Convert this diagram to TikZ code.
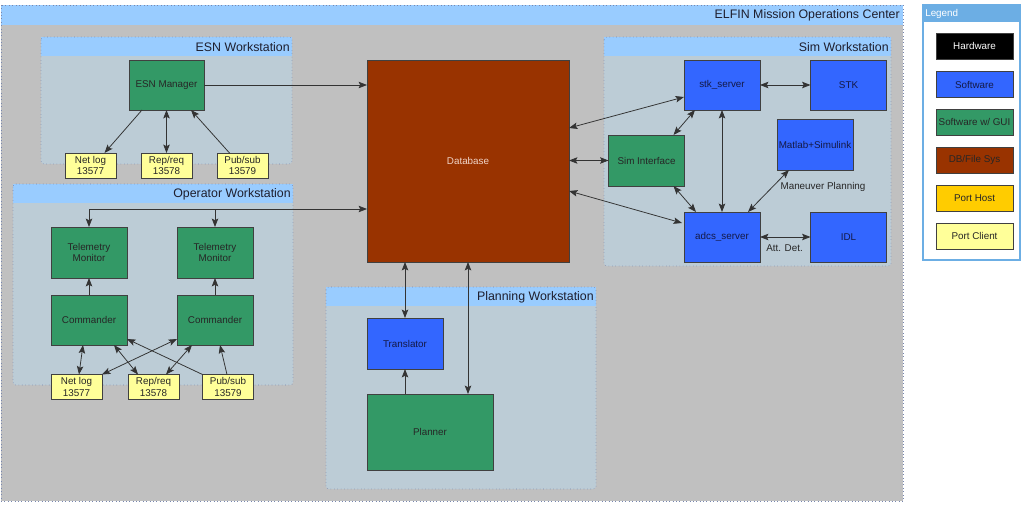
\documentclass[tikz,border=0pt]{standalone}
\usepackage{fontspec}
\setmainfont{Liberation Sans}
\usetikzlibrary{arrows.meta,calc}
\definecolor{mocgray}{RGB}{192,192,192}
\definecolor{hdr}{RGB}{153,204,255}
\definecolor{wsbody}{RGB}{188,204,214}
\definecolor{wsborder}{RGB}{120,135,175}
\definecolor{legblue}{RGB}{108,174,228}
\definecolor{swblue}{RGB}{51,102,255}
\definecolor{guigreen}{RGB}{51,153,102}
\definecolor{dbbrown}{RGB}{153,51,0}
\definecolor{porthost}{RGB}{255,204,0}
\definecolor{portclient}{RGB}{255,255,153}
\definecolor{navytext}{RGB}{20,25,70}
\definecolor{titletext}{RGB}{30,30,45}
\begin{document}
\begin{tikzpicture}[x=0.025cm,y=-0.025cm,
  box/.style={draw=black!75, line width=0.5pt, inner sep=0pt, outer sep=0pt,
    font=\fontsize{7}{8.4}\selectfont, align=center, text=black!85},
  wh/.style 2 args={minimum width=#1*0.025cm, minimum height=#2*0.025cm},
  gui/.style={box, fill=guigreen},
  sw/.style={box, fill=swblue, text=navytext},
  port/.style={box, fill=portclient, wh={51}{25}},
  wstitle/.style={font=\fontsize{8.8}{10}\selectfont, text=titletext, anchor=east, inner sep=0pt},
  conn/.style={draw=black!80, line width=0.55pt},
  bi/.style={conn, {Stealth[length=6pt,width=4.6pt,inset=1.2pt]}-{Stealth[length=6pt,width=4.6pt,inset=1.2pt]}},
  uni/.style={conn, -{Stealth[length=6pt,width=4.6pt,inset=1.2pt]}},
  lbl/.style={font=\fontsize{7}{8.4}\selectfont, text=black!85, inner sep=0pt}
]
\useasboundingbox (0,0) rectangle (1024,505);
% Mission operations center
\fill[mocgray] (1,5) rectangle (903,501);
\fill[hdr] (1,5) rectangle (903,25);
\draw[wsborder, dotted] (1,5) rectangle (903,501);
\node[wstitle] at (900,15) {ELFIN Mission Operations Center};

% Workstation containers
\fill[wsbody, rounded corners=2] (41,37) rectangle (292,164);
\fill[hdr] (41,37) rectangle (292,56);
\draw[wsborder, dotted, rounded corners=2] (41,37) rectangle (292,164);
\node[wstitle] at (290,47) {ESN Workstation};

\fill[wsbody, rounded corners=2] (13,184) rectangle (293,385);
\fill[hdr] (13,184) rectangle (293,203);
\draw[wsborder, dotted, rounded corners=2] (13,184) rectangle (293,385);
\node[wstitle] at (291,194) {Operator Workstation};

\fill[wsbody, rounded corners=2] (604,37) rectangle (891,266);
\fill[hdr] (604,37) rectangle (891,56);
\draw[wsborder, dotted, rounded corners=2] (604,37) rectangle (891,266);
\node[wstitle] at (889,47) {Sim Workstation};

\fill[wsbody, rounded corners=2] (326,287) rectangle (596,489);
\fill[hdr] (326,287) rectangle (596,306);
\draw[wsborder, dotted, rounded corners=2] (326,287) rectangle (596,489);
\node[wstitle] at (594,297) {Planning Workstation};

% Legend
\fill[white] (923,5) rectangle (1020,260);
\fill[legblue] (923,5) rectangle (1020,22);
\draw[legblue, line width=0.8pt] (923,5) rectangle (1020,260);
\node[lbl, text=white, anchor=west, font=\fontsize{7}{8}\selectfont] (legtitle) at (925,14) {Legend};
\node[box, wh={77}{26}, fill=black, text=white] (lhw) at (974.5,46) {Hardware};
\node[box, wh={77}{26}, fill=swblue, text=navytext] (lsw) at (974.5,84.5) {Software};
\node[box, wh={77}{26}, fill=guigreen] (lgui) at (974.5,122) {Software w/ GUI};
\node[box, wh={77}{26}, fill=dbbrown, text=black!85] (ldb) at (974.5,160) {DB/File Sys};
\node[box, wh={77}{26}, fill=porthost] (lph) at (974.5,198.5) {Port Host};
\node[box, wh={77}{26}, fill=portclient] (lpc) at (974.5,236) {Port Client};

% Database
\node[box, wh={202}{202}, fill=dbbrown, text={rgb,255:red,240;green,212;blue,200}] (db) at (468,161) {Database};

% ESN workstation
\node[gui, wh={75}{50}] (esnm) at (166.5,85) {ESN Manager};
\node[port] (nl1) at (90.5,165.5) {Net log\\13577};
\node[port] (rr1) at (166.5,165.5) {Rep/req\\13578};
\node[port] (ps1) at (242.5,165.5) {Pub/sub\\13579};

% Operator workstation
\node[gui, wh={76}{51}] (tm1) at (89,252.5) {Telemetry\\Monitor};
\node[gui, wh={76}{51}] (tm2) at (215,252.5) {Telemetry\\Monitor};
\node[gui, wh={76}{50}] (cm1) at (89,320) {Commander};
\node[gui, wh={76}{50}] (cm2) at (215,320) {Commander};
\node[port] (nl2) at (76.5,387) {Net log\\13577};
\node[port] (rr2) at (153.5,387) {Rep/req\\13578};
\node[port] (ps2) at (228,387) {Pub/sub\\13579};

% Sim workstation
\node[sw, wh={76}{50}] (stk) at (722,85) {stk\_server};
\node[sw, wh={76}{50}] (stkapp) at (848.5,85) {STK};
\node[sw, wh={76}{51}] (mat) at (815,144.5) {Matlab+Simulink};
\node[gui, wh={76}{51}] (simi) at (646.5,160.5) {Sim Interface};
\node[sw, wh={76}{50}] (adcs) at (722,237) {adcs\_server};
\node[sw, wh={76}{50}] (idl) at (848.5,237) {IDL};

% Planning workstation
\node[sw, wh={76}{51}] (tr) at (405,343.5) {Translator};
\node[gui, wh={126}{76}] (pl) at (430,432) {Planner};

% ESN connectors
\draw[uni] (esnm.east) -- (esnm.east -| db.west);
\draw[uni] ($(esnm.south west)+(13,0)$) -- ($(nl1.north)+(14,0)$);
\draw[bi] (esnm.south) -- (rr1.north);
\draw[uni] ($(ps1.north)+(-13,0)$) -- ($(esnm.south east)+(-13,0)$);

% Operator connectors
\coordinate (bus) at ($(db.north west)+(0,149)$);
\draw[bi] (tm1.north) |- (bus);
\draw[uni] (tm2.north |- bus) -- (tm2.north);
\draw[uni] (cm1.north) -- (tm1.south);
\draw[uni] (cm2.north) -- (tm2.south);
\draw[bi] ($(nl2.north)+(2.5,0)$) -- ($(cm1.south)+(-6,0)$);
\draw[bi] (nl2.north east) -- ($(cm2.south west)+(0,-6)$);
\draw[bi] ($(cm1.south)+(25,0)$) -- ($(rr2.north)+(-15.5,0)$);
\draw[bi] ($(rr2.north)+(12.5,0)$) -- ($(cm2.south)+(-23,0)$);
\draw[uni] (ps2.north west) -- ($(cm1.south east)+(0,-6)$);
\draw[uni] ($(ps2.north)+(-1,0)$) -- ($(cm2.south)+(5,0)$);

% Sim connectors
\draw[bi] ($(db.north east)+(0,68)$) -- ($(stk.west)+(0,12)$);
\draw[bi] (simi.west -| db.east) -- (simi.west);
\draw[bi] ($(db.north east)+(0,131)$) -- ($(adcs.west)+(-2,-14)$);
\draw[bi] ($(simi.north east)+(-11,0)$) -- ($(stk.south west)+(11,0)$);
\draw[bi] ($(simi.south east)+(-11,0)$) -- ($(adcs.north west)+(12,0)$);
\draw[bi] (stk.south) -- (adcs.north);
\draw[bi] (stk.east) -- (stkapp.west);
\draw[bi] ($(mat.south west)+(12,0)$) -- ($(adcs.north east)+(-12,0)$);
\draw[bi] (adcs.east) -- (idl.west);
\node[lbl] (manlbl) at (823,187) {Maneuver Planning};
\node[lbl] (attlbl) at (784.5,248) {Att. Det.};

% Planning connectors
\draw[bi] (tr.north |- db.south) -- (tr.north);
\draw[bi] (db.south) -- (db.south |- pl.north);
\draw[uni] (tr.south |- pl.north) -- (tr.south);
\end{tikzpicture}
\end{document}
